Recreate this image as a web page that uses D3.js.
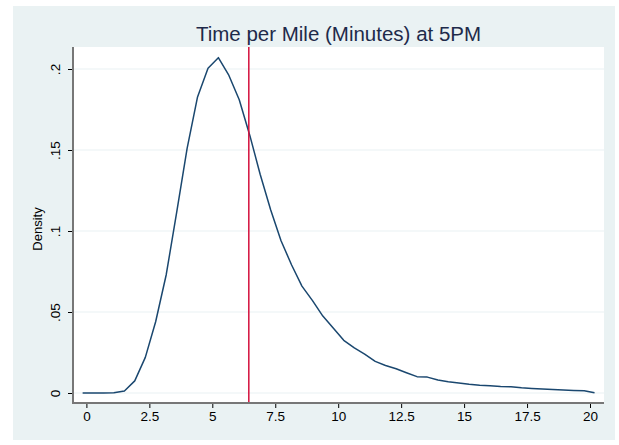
<!DOCTYPE html>
<html>
<head>
<meta charset="utf-8">
<script src="https://cdnjs.cloudflare.com/ajax/libs/d3/7.8.5/d3.min.js"></script>
<style>
  body { margin: 0; background: #fff; }
  text { font-family: "Liberation Sans", Arial, Helvetica, sans-serif; }
</style>
</head>
<body>
<svg id="chart" width="619" height="445"></svg>
<script>
// kernel density evaluation points (minutes per mile)
var minutes = [-0.15, 0.26, 0.68, 1.09, 1.51, 1.92, 2.34, 2.75, 3.17, 3.58,
  4.00, 4.41, 4.83, 5.24, 5.66, 6.07, 6.49, 6.90, 7.32, 7.73,
  8.15, 8.56, 8.98, 9.39, 9.81, 10.22, 10.64, 11.05, 11.47, 11.88,
  12.30, 12.71, 13.13, 13.54, 13.96, 14.37, 14.79, 15.20, 15.62, 16.03,
  16.45, 16.86, 17.28, 17.69, 18.11, 18.52, 18.94, 19.35, 19.77, 20.18];

var density = [0, 0, 0, 0.0002, 0.0012, 0.0075, 0.022, 0.044, 0.073, 0.111,
  0.151, 0.1825, 0.2005, 0.207, 0.196, 0.181, 0.159, 0.135, 0.113, 0.094,
  0.079, 0.066, 0.057, 0.0475, 0.040, 0.0325, 0.0278, 0.024, 0.0195, 0.017,
  0.0150, 0.0125, 0.0101, 0.0098, 0.0080, 0.0070, 0.0062, 0.0054, 0.0048, 0.0044,
  0.0040, 0.0038, 0.0032, 0.0028, 0.0025, 0.0021, 0.0018, 0.0016, 0.0014, 0.0002];

var xTicks = [0, 2.5, 5, 7.5, 10, 12.5, 15, 17.5, 20];
var xTickLabels = ["0", "2.5", "5", "7.5", "10", "12.5", "15", "17.5", "20"];
var yTicks = [0, 0.05, 0.1, 0.15, 0.2];
var yTickLabels = ["0", ".05", ".1", ".15", ".2"];
var meanLine = 6.45;

var svg = d3.select("#chart");

// outer graph region
svg.append("rect").attr("x", 13).attr("y", 6).attr("width", 602).attr("height", 434)
  .style("fill", "#eaf2f3");

// plot region
var plot = { left: 73, right: 604, top: 47, bottom: 403 };
svg.append("rect").attr("x", plot.left).attr("y", plot.top)
  .attr("width", plot.right - plot.left).attr("height", plot.bottom - plot.top)
  .style("fill", "#fff");

var x = d3.scaleLinear().domain([0, 20]).range([86.4, 590]);
var y = d3.scaleLinear().domain([0, 0.2]).range([393, 69]);

// horizontal grid lines
svg.append("g").selectAll("line").data(yTicks).enter().append("line")
  .attr("x1", plot.left).attr("x2", plot.right)
  .attr("y1", function(d) { return y(d); }).attr("y2", function(d) { return y(d); })
  .style("stroke", "#eaf2f3").style("stroke-width", 1.2);

// y axis
var yAxis = svg.append("g").attr("transform", "translate(" + plot.left + ",0)")
  .call(d3.axisLeft(y).tickValues(yTicks).tickSize(5).tickPadding(4)
    .tickFormat(function(d, i) { return yTickLabels[i]; }));
yAxis.select(".domain").remove();
yAxis.selectAll(".tick line").style("stroke", "#000").style("stroke-width", 1);
yAxis.selectAll(".tick text")
  .attr("transform", "rotate(-90)")
  .attr("x", 0).attr("y", -13).attr("dy", 0)
  .style("text-anchor", "middle")
  .style("font-size", "13.5px").style("fill", "#000");

// x axis
var xAxis = svg.append("g").attr("transform", "translate(0," + plot.bottom + ")")
  .call(d3.axisBottom(x).tickValues(xTicks).tickSize(5).tickPadding(4)
    .tickFormat(function(d, i) { return xTickLabels[i]; }));
xAxis.select(".domain").remove();
xAxis.selectAll(".tick line").style("stroke", "#000").style("stroke-width", 1);
xAxis.selectAll(".tick text").attr("dy", 0).attr("y", 18)
  .style("font-size", "13.5px").style("fill", "#000");

// axis lines
svg.append("line").attr("x1", plot.left).attr("x2", plot.left)
  .attr("y1", plot.top).attr("y2", plot.bottom + 1)
  .style("stroke", "#777").style("stroke-width", 2);
svg.append("line").attr("x1", plot.left - 1).attr("x2", plot.right)
  .attr("y1", plot.bottom).attr("y2", plot.bottom)
  .style("stroke", "#777").style("stroke-width", 2);

// density curve
var line = d3.line()
  .x(function(d, i) { return x(minutes[i]); })
  .y(function(d) { return y(d); });
svg.append("path").datum(density)
  .attr("d", line)
  .style("fill", "none").style("stroke", "#1a476f").style("stroke-width", 1.5)
  .style("stroke-linejoin", "round");

// mean reference line
svg.append("line")
  .attr("x1", x(meanLine)).attr("x2", x(meanLine))
  .attr("y1", plot.top).attr("y2", plot.bottom - 1)
  .style("stroke", "#d40f3c").style("stroke-width", 1.5);

// titles
svg.append("text").attr("x", (plot.left + plot.right) / 2).attr("y", 41)
  .style("text-anchor", "middle").style("font-size", "20.5px").style("fill", "#1e2a4a")
  .text("Time per Mile (Minutes) at 5PM");

svg.append("text")
  .attr("transform", "translate(42," + ((plot.top + plot.bottom) / 2 + 4) + ") rotate(-90)")
  .style("text-anchor", "middle").style("font-size", "13px").style("fill", "#000")
  .text("Density");
</script>
</body>
</html>
